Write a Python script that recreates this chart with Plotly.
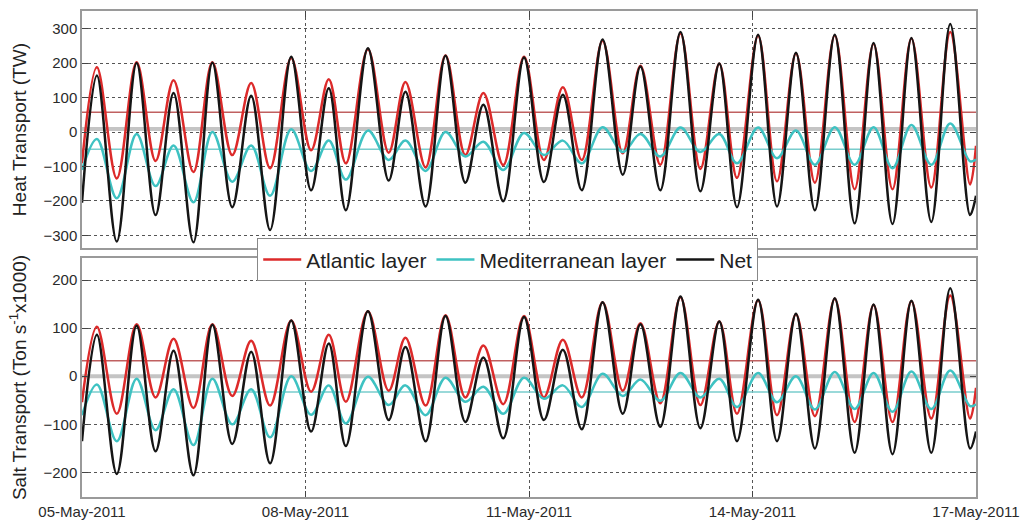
import pandas as pd
import plotly.graph_objects as go
from plotly.subplots import make_subplots

# Times of the read extrema, hours after 05-May-2011 00:00
hours = [0, 4.8, 11.2, 17.6, 23.7, 29.5, 35.9, 42.0, 48.4, 54.5, 60.6, 67.4, 73.8,
         79.5, 85.0, 92.1, 98.8, 104.2, 110.7, 117.1, 123.5, 129.3, 135.7, 142.4,
         148.8, 154.9, 161.0, 167.7, 174.2, 179.9, 186.3, 192.8, 199.2, 205.3,
         211.0, 217.8, 223.9, 230.0, 236.1, 242.5, 248.9, 255.0, 261.1, 267.2,
         273.6, 279.7, 286.1, 288.0]

# Heat transport (TW)
heat_atlantic = [-91, 188, -135, 202, -84, 150, -116, 202, -67, 142, -105, 215, -53,
                 153, -91, 240, -60, 145, -103, 222, -67, 113, -96, 218, -81, 130,
                 -81, 265, -62, 192, -95, 286, -107, 198, -133, 279, -143, 228, -147,
                 280, -166, 255, -166, 271, -161, 290, -152, -40]
heat_med = [-110, -20, -192, -6, -157, -39, -204, 0, -144, -39, -185, 8, -113, -25,
            -138, 4, -81, -25, -113, 0, -71, -28, -110, -3, -67, -25, -91, 14, -58,
            -6, -71, 13, -58, -6, -91, 13, -76, 4, -95, 14, -95, 14, -105, 20, -95,
            25, -85, -80]
heat_net = [-205, 164, -318, 200, -241, 113, -320, 201, -218, 105, -284, 218, -169,
            127, -227, 243, -141, 117, -216, 221, -147, 79, -201, 216, -145, 108,
            -169, 268, -124, 190, -169, 290, -172, 199, -218, 282, -216, 230, -227,
            282, -265, 258, -267, 273, -261, 313, -241, -185]

# Salt transport (Ton s^-1 x1000)
salt_atlantic = [-54, 103, -78, 108, -44, 78, -66, 108, -41, 74, -61, 116, -32, 86,
                 -53, 135, -30, 80, -61, 127, -44, 64, -58, 125, -44, 76, -44, 154,
                 -30, 110, -56, 164, -60, 114, -78, 158, -81, 129, -83, 161, -95, 148,
                 -95, 156, -88, 168, -88, -24]
salt_med = [-81, -17, -135, -5, -112, -27, -143, -5, -100, -27, -127, 0, -80, -19,
            -98, -1, -60, -19, -81, -3, -53, -22, -78, -3, -47, -19, -64, 5, -41, -7,
            -51, 7, -44, -5, -64, 7, -54, 0, -69, 9, -68, 7, -74, 10, -68, 12, -62,
            -58]
salt_net = [-135, 86, -203, 105, -156, 53, -206, 107, -141, 51, -181, 116, -115, 68,
            -145, 135, -91, 61, -135, 125, -95, 39, -129, 123, -91, 55, -110, 154,
            -78, 108, -105, 166, -108, 114, -135, 159, -135, 130, -150, 162, -159,
            149, -162, 157, -159, 183, -150, -115]

# Mean values (horizontal reference lines)
heat_means = {"atlantic": 57, "med": -50, "net": 9}
salt_means = {"atlantic": 32, "med": -33, "net": 0}

tick_dates = ["2011-05-05", "2011-05-08", "2011-05-11", "2011-05-14", "2011-05-17"]
tick_text = ["05-May-2011", "08-May-2011", "11-May-2011", "14-May-2011", "17-May-2011"]

base = pd.Timestamp("2011-05-05")
times = base + pd.to_timedelta(hours, unit="h")
x_span = [pd.Timestamp(tick_dates[0]), pd.Timestamp(tick_dates[-1])]

RED = "#dc2a2a"
CYAN = "#3ec2c2"
BLACK = "#151515"

fig = make_subplots(rows=2, cols=1, shared_xaxes=False, vertical_spacing=0.02)

def add_panel(row, atl, med, net, means, legend):
    # mean lines
    fig.add_trace(go.Scatter(x=x_span, y=[means["net"]] * 2, mode="lines",
                             line=dict(color="#c4c4c4", width=4), showlegend=False,
                             hoverinfo="skip"), row=row, col=1)
    fig.add_trace(go.Scatter(x=x_span, y=[means["atlantic"]] * 2, mode="lines",
                             line=dict(color="#c06060", width=1.5), showlegend=False,
                             hoverinfo="skip"), row=row, col=1)
    fig.add_trace(go.Scatter(x=x_span, y=[means["med"]] * 2, mode="lines",
                             line=dict(color="#78cccc", width=1.5), showlegend=False,
                             hoverinfo="skip"), row=row, col=1)
    fig.add_trace(go.Scatter(x=times, y=atl, mode="lines", name="Atlantic layer",
                             line=dict(color=RED, width=2.5, shape="spline", smoothing=1.0),
                             showlegend=legend), row=row, col=1)
    fig.add_trace(go.Scatter(x=times, y=med, mode="lines", name="Mediterranean layer",
                             line=dict(color=CYAN, width=2.5, shape="spline", smoothing=1.0),
                             showlegend=legend), row=row, col=1)
    fig.add_trace(go.Scatter(x=times, y=net, mode="lines", name="Net",
                             line=dict(color=BLACK, width=2.5, shape="spline", smoothing=1.0),
                             showlegend=legend), row=row, col=1)

add_panel(1, heat_atlantic, heat_med, heat_net, heat_means, True)
add_panel(2, salt_atlantic, salt_med, salt_net, salt_means, False)

FONT = "Liberation Sans, Arial, sans-serif"
axis_common = dict(showline=True, mirror="ticks", linecolor="#9a9a9a", linewidth=1.5,
                   ticks="inside", ticklen=6, tickcolor="#444", showgrid=True,
                   gridcolor="#555", griddash="dot", gridwidth=1, zeroline=False,
                   tickfont=dict(family=FONT, size=15, color="#2a2a2a"))

fig.update_xaxes(**axis_common, type="date", range=x_span,
                 tickvals=[pd.Timestamp(d) for d in tick_dates], ticktext=tick_text)
fig.update_xaxes(showticklabels=False, row=1, col=1)
fig.update_xaxes(showticklabels=True, row=2, col=1)

fig.update_yaxes(**axis_common)
fig.update_yaxes(range=[-337, 351], tickvals=[-300, -200, -100, 0, 100, 200, 300],
                 domain=[0.512, 1.0], row=1, col=1,
                 title=dict(text="Heat Transport (TW)",
                            font=dict(family=FONT, size=19, color="#222"), standoff=12))
fig.update_yaxes(range=[-251, 246], tickvals=[-200, -100, 0, 100, 200],
                 domain=[0.0, 0.492], row=2, col=1,
                 title=dict(text="Salt Transport (Ton s<sup>-1</sup>x1000)",
                            font=dict(family=FONT, size=19, color="#222"), standoff=12))

fig.update_layout(
    width=1029, height=529,
    margin=dict(l=82, r=49, t=9, b=22),
    paper_bgcolor="white", plot_bgcolor="white",
    font=dict(family=FONT, color="#222"),
    legend=dict(orientation="h", x=0.196, xanchor="left", y=0.532, yanchor="top",
                bgcolor="white", bordercolor="#888", borderwidth=1,
                font=dict(family=FONT, size=21, color="#222"),
                itemwidth=38, tracegroupgap=0),
    showlegend=True,
)

fig.write_html("out.html")
